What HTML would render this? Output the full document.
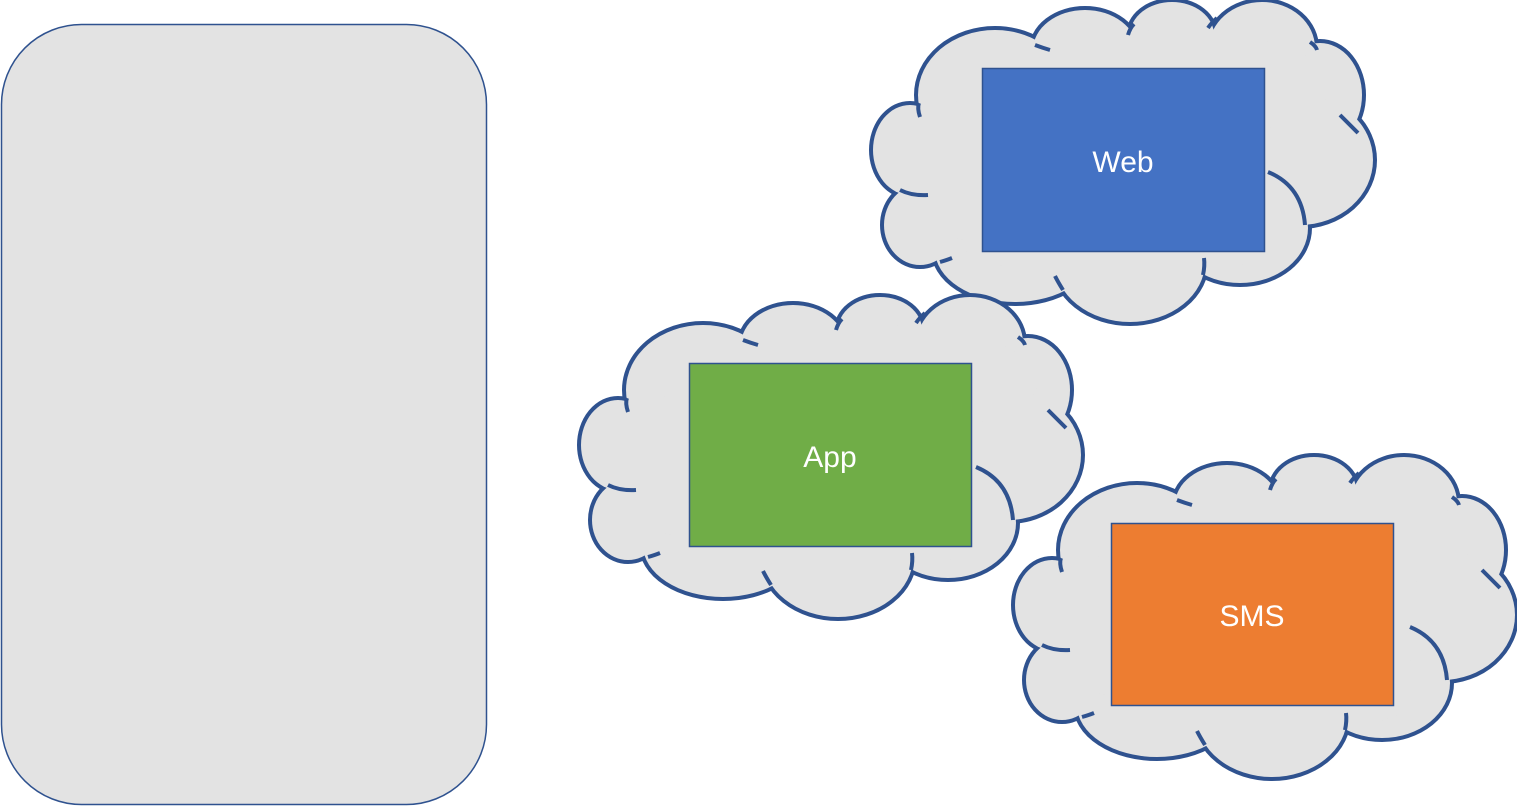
<!DOCTYPE html>
<html><head><meta charset="utf-8"><style>
html,body{margin:0;padding:0;background:#fff;width:1517px;height:807px;overflow:hidden}
svg{display:block}
</style></head><body>
<svg width="1517" height="807" viewBox="0 0 1517 807" xmlns="http://www.w3.org/2000/svg">
<defs>
<g id="lobes">
<ellipse cx="40" cy="150" rx="37" ry="45"/>
<ellipse cx="50" cy="225" rx="36" ry="40"/>
<ellipse cx="125" cy="95" rx="77" ry="65"/>
<ellipse cx="215" cy="50" rx="52" ry="40"/>
<ellipse cx="302" cy="35" rx="42" ry="33"/>
<ellipse cx="392" cy="48" rx="53" ry="46"/>
<ellipse cx="450" cy="95" rx="42" ry="52"/>
<ellipse cx="430" cy="160" rx="73" ry="65"/>
<ellipse cx="370" cy="228" rx="68" ry="55"/>
<ellipse cx="260" cy="262" rx="75" ry="60"/>
<ellipse cx="145" cy="250" rx="80" ry="52"/>
<ellipse cx="250" cy="160" rx="200" ry="110"/>
</g>
<g id="fillers" fill="#E3E3E3">
<ellipse cx="300" cy="85" rx="160" ry="55"/>
<ellipse cx="250" cy="230" rx="170" ry="50"/>
<ellipse cx="100" cy="170" rx="60" ry="70"/>
</g>
<g id="cloud">
<use href="#lobes" fill="#E3E3E3" stroke="#2F528F" stroke-width="8"/>
<use href="#lobes" fill="#E3E3E3" stroke="none"/>
<use href="#fillers"/>
<g fill="none" stroke="#2F528F" stroke-width="4">
<path d="M398,172 Q432,186 435,225"/>
<path d="M30,190 Q42,196 58,195"/>
<path d="M50,117 Q47,108 49,103"/>
<path d="M70,262 Q77,260 82,258"/>
<path d="M185,276 Q188,282 193,290"/>
<path d="M334,258 Q335,266 333,275"/>
<path d="M470,115 Q480,125 488,133"/>
<path d="M440,42 Q446,46 447,50"/>
<path d="M338,28 Q342,22 347,18"/>
<path d="M258,35 Q260,28 264,24"/>
<path d="M165,45 Q173,48 180,50"/>
</g>
</g>
</defs>
<rect x="1.5" y="24.5" width="485" height="780" rx="80" ry="80" fill="#E3E3E3" stroke="#2F528F" stroke-width="1.5"/>

<use href="#cloud" transform="translate(870,0)"/>
<use href="#cloud" transform="translate(578,295)"/>
<use href="#cloud" transform="translate(1012,455)"/>

<rect x="982.5" y="68.5" width="282" height="183" fill="#4472C4" stroke="#2F528F" stroke-width="1.5"/>
<text x="1123" y="172" fill="#fff" font-family="Liberation Sans, sans-serif" font-size="30" text-anchor="middle">Web</text>
<rect x="689.5" y="363.5" width="282" height="183" fill="#70AD47" stroke="#2F528F" stroke-width="1.5"/>
<text x="830" y="467" fill="#fff" font-family="Liberation Sans, sans-serif" font-size="30" text-anchor="middle">App</text>
<rect x="1111.5" y="523.5" width="282" height="182" fill="#ED7D31" stroke="#2F528F" stroke-width="1.5"/>
<text x="1252" y="626" fill="#fff" font-family="Liberation Sans, sans-serif" font-size="30" text-anchor="middle">SMS</text>
</svg>
</body></html>
